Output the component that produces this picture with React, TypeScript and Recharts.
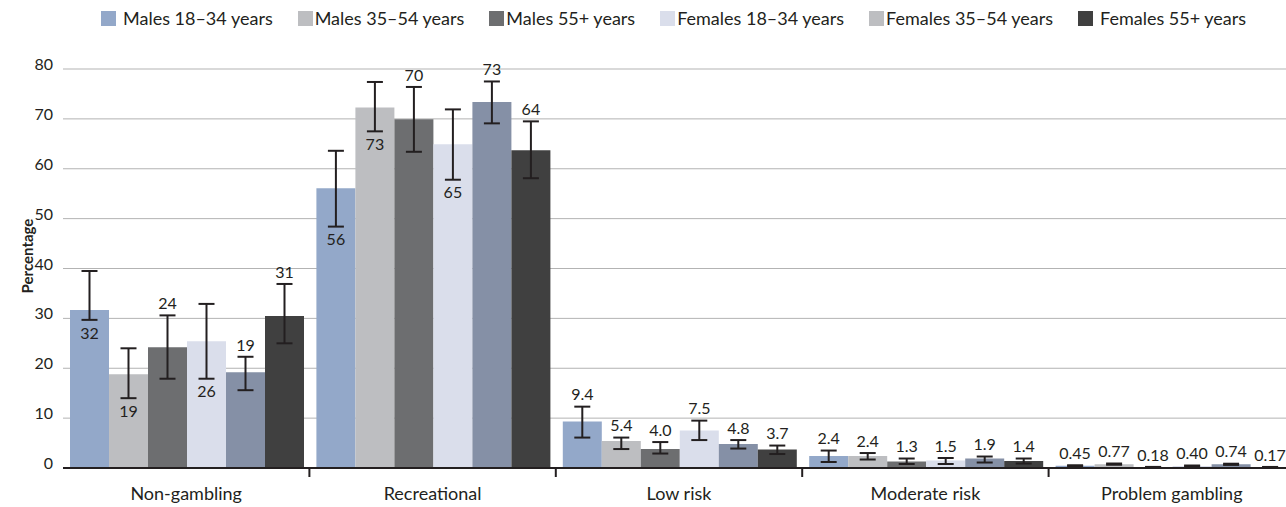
import React from 'react';
import { BarChart, Bar, XAxis, YAxis, CartesianGrid, ErrorBar, LabelList } from 'recharts';

const categories = ['Non-gambling', 'Recreational', 'Low risk', 'Moderate risk', 'Problem gambling'];
const yTicks = [0, 10, 20, 30, 40, 50, 60, 70, 80];

// Males 18–34
const m1834 = [31.7, 56.1, 9.3, 2.4, 0.45];
const m1834Lo = [29.7, 48.4, 6.1, 1.2, 0.35];
const m1834Hi = [39.5, 63.6, 12.3, 3.5, 0.55];
const m1834Labels = ['32', '56', '9.4', '2.4', '0.45'];
// Males 35–54
const m3554 = [18.8, 72.3, 5.4, 2.4, 0.77];
const m3554Lo = [14.0, 67.5, 3.8, 1.7, 0.65];
const m3554Hi = [24.0, 77.4, 6.1, 3.0, 0.9];
const m3554Labels = ['19', '73', '5.4', '2.4', '0.77'];
// Males 55+
const m55 = [24.2, 69.9, 3.8, 1.3, 0.18];
const m55Lo = [17.9, 63.4, 2.9, 0.8, 0.14];
const m55Hi = [30.6, 76.4, 5.2, 1.9, 0.22];
const m55Labels = ['24', '70', '4.0', '1.3', '0.18'];
// Females 18–34
const f1834 = [25.4, 64.9, 7.5, 1.5, 0.4];
const f1834Lo = [17.9, 57.8, 5.6, 0.8, 0.33];
const f1834Hi = [32.9, 71.9, 9.5, 2.0, 0.5];
const f1834Labels = ['26', '65', '7.5', '1.5', '0.40'];
// Females 35–54
const f3554 = [19.2, 73.4, 4.8, 1.9, 0.74];
const f3554Lo = [15.6, 69.1, 3.9, 1.1, 0.62];
const f3554Hi = [22.3, 77.5, 5.6, 2.3, 0.86];
const f3554Labels = ['19', '73', '4.8', '1.9', '0.74'];
// Females 55+
const f55 = [30.5, 63.7, 3.7, 1.4, 0.17];
const f55Lo = [25.0, 58.1, 2.8, 0.9, 0.13];
const f55Hi = [36.9, 69.5, 4.5, 1.9, 0.21];
const f55Labels = ['31', '64', '3.7', '1.4', '0.17'];

// label placement: true = below the error bar (inside the bar)
const m1834Below = [true, true, false, false, false];
const m3554Below = [true, true, false, false, false];
const m55Below = [false, false, false, false, false];
const f1834Below = [true, true, false, false, false];
const f3554Below = [false, false, false, false, false];
const f55Below = [false, false, false, false, false];

const series = [
  { key: 'm1834', name: 'Males 18–34 years', color: '#93a8c9', legend: '#93a8c9', v: m1834, lo: m1834Lo, hi: m1834Hi, labels: m1834Labels, below: m1834Below },
  { key: 'm3554', name: 'Males 35–54 years', color: '#bdbec1', legend: '#bdbec1', v: m3554, lo: m3554Lo, hi: m3554Hi, labels: m3554Labels, below: m3554Below },
  { key: 'm55', name: 'Males 55+ years', color: '#6d6e70', legend: '#6d6e70', v: m55, lo: m55Lo, hi: m55Hi, labels: m55Labels, below: m55Below },
  { key: 'f1834', name: 'Females 18–34 years', color: '#dadeeb', legend: '#dadeeb', v: f1834, lo: f1834Lo, hi: f1834Hi, labels: f1834Labels, below: f1834Below },
  { key: 'f3554', name: 'Females 35–54 years', color: '#8590a6', legend: '#bdbec1', v: f3554, lo: f3554Lo, hi: f3554Hi, labels: f3554Labels, below: f3554Below },
  { key: 'f55', name: 'Females 55+ years', color: '#404040', legend: '#404040', v: f55, lo: f55Lo, hi: f55Hi, labels: f55Labels, below: f55Below },
];

const data = categories.map((c, i) => {
  const row: any = { category: c };
  series.forEach((s) => {
    row[s.key] = s.v[i];
    row[s.key + 'Err'] = [s.v[i] - s.lo[i], s.hi[i] - s.v[i]];
    row[s.key + 'Lbl'] = s.labels[i];
  });
  return row;
});

const FONT = 'Lato, "Noto Sans", sans-serif';
const INK = '#231f20';

const makeLabel = (s: any) => (props: any) => {
  const { x, y, width, height, value, index } = props;
  const v = s.v[index];
  const ppu = v ? height / v : 0;
  const topY = y - (s.hi[index] - v) * ppu;
  const botY = y + (v - s.lo[index]) * ppu;
  const below = s.below[index];
  const cy = below ? botY + 13 : topY - 12;
  return (
    <text x={x + width / 2} y={cy} dy="0.36em" textAnchor="middle" fontSize={16} fill={INK} fontFamily={FONT}>
      {value}
    </text>
  );
};

const YTick = (props: any) => {
  const { x, y, payload } = props;
  return (
    <text x={x} y={y + 1} textAnchor="end" fontSize={16} fill={INK} fontFamily={FONT}>
      {payload.value}
    </text>
  );
};

const XTick = (props: any) => {
  const { x, y, payload, index, visibleTicksCount } = props;
  const half = payload.offset || 0;
  const count = visibleTicksCount || categories.length;
  return (
    <g>
      <text x={x} y={y + 32} textAnchor="middle" fontSize={18} fill={INK} fontFamily={FONT}>
        {payload.value}
      </text>
      {index < count - 1 && half > 0 ? (
        <line x1={x + half} x2={x + half} y1={y} y2={y + 9} stroke={INK} strokeWidth={2} />
      ) : null}
    </g>
  );
};

export default function App() {
  return (
    <div style={{ position: 'fixed', left: 0, top: 0, width: 1286, height: 507, overflow: 'hidden', background: '#fff' }}>
      <div style={{ position: 'absolute', left: 101, top: 11, display: 'flex', alignItems: 'center', fontFamily: FONT, fontSize: 18, color: INK, whiteSpace: 'nowrap', zIndex: 2 }}>
        {series.map((s, i) => (
          <div key={s.key} style={{ display: 'flex', alignItems: 'center', marginRight: 25 }}>
            <span style={{ display: 'inline-block', width: 15, height: 15, background: s.legend, marginRight: i === 0 || i === series.length - 1 ? 7 : 2 }} />
            <span style={{ lineHeight: '15px' }}>{s.name}</span>
          </div>
        ))}
      </div>
      <div style={{ position: 'absolute', left: 27, top: 256, transform: 'translate(-50%, -50%) rotate(-90deg)', fontFamily: FONT, fontSize: 15, fontWeight: 700, color: INK, whiteSpace: 'nowrap' }}>
        Percentage
      </div>
      <BarChart
        width={1296}
        height={507}
        data={data}
        margin={{ top: 69, right: 1, bottom: 0, left: 0 }}
        barCategoryGap={7}
        barGap={0}
      >
        <CartesianGrid horizontal vertical={false} stroke="#b3b3b3" strokeWidth={1} />
        <YAxis
          width={63}
          domain={[0, 80]}
          ticks={yTicks}
          tickLine={false}
          axisLine={false}
          tickSize={0}
          tickMargin={10}
          tick={<YTick />}
          interval={0}
        />
        <XAxis
          dataKey="category"
          height={39}
          tickLine={false}
          tickSize={0}
          tickMargin={0}
          axisLine={{ stroke: INK, strokeWidth: 2 }}
          tick={<XTick />}
          interval={0}
        />
        {series.map((s) => (
          <Bar key={s.key} dataKey={s.key} name={s.name} fill={s.color} isAnimationActive={false}>
            <ErrorBar dataKey={s.key + 'Err'} width={8} strokeWidth={2} stroke={INK} direction="y" />
            <LabelList dataKey={s.key + 'Lbl'} content={makeLabel(s)} />
          </Bar>
        ))}
      </BarChart>
    </div>
  );
}
